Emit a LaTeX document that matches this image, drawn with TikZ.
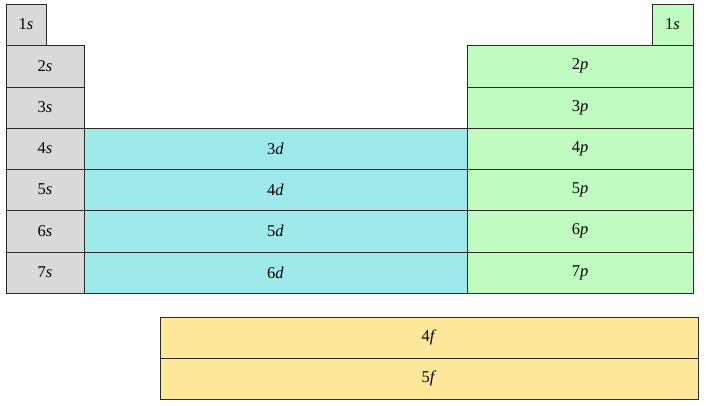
\documentclass[tikz,border=0pt]{standalone}
\usepackage{fontspec}
\setmainfont{Liberation Serif}
\definecolor{sgray}{HTML}{D9D9D9}
\definecolor{dcyan}{HTML}{9EEAEA}
\definecolor{pgreen}{HTML}{C0FCC0}
\definecolor{fyellow}{HTML}{FFE899}
\definecolor{edge}{HTML}{2A2A2A}
\tikzset{
  cell/.style={draw=edge, line width=1pt},
  celltext/.style={inner sep=0pt, font=\fontsize{16.5}{19}\selectfont},
}
\newcommand{\cellbox}[7]{% name, x1, y1, x2, y2, fill, label
  \path[cell, fill=#6] (#2,#3) rectangle (#4,#5);
  \node[celltext] (#1) at ({(#2+#4)/2},{(#3+#5)/2}) {#7};
}
\begin{document}
\begin{tikzpicture}[x=1pt,y=-1pt]
\useasboundingbox (0,0) rectangle (706,405);
% s block
\cellbox{s1}{6}{4}{46}{45}{sgray}{1\textit{s}}
\cellbox{s2}{6}{45}{84}{87}{sgray}{2\textit{s}}
\cellbox{s3}{6}{87}{84}{128}{sgray}{3\textit{s}}
\cellbox{s4}{6}{128}{84}{169}{sgray}{4\textit{s}}
\cellbox{s5}{6}{169}{84}{210}{sgray}{5\textit{s}}
\cellbox{s6}{6}{210}{84}{252}{sgray}{6\textit{s}}
\cellbox{s7}{6}{252}{84}{293}{sgray}{7\textit{s}}
% d block
\cellbox{d3}{84}{128}{467}{169}{dcyan}{3\textit{d}}
\cellbox{d4}{84}{169}{467}{210}{dcyan}{4\textit{d}}
\cellbox{d5}{84}{210}{467}{252}{dcyan}{5\textit{d}}
\cellbox{d6}{84}{252}{467}{293}{dcyan}{6\textit{d}}
% p block
\cellbox{he}{652}{4}{693}{45}{pgreen}{1\textit{s}}
\cellbox{p2}{467}{45}{693}{87}{pgreen}{2\textit{p}}
\cellbox{p3}{467}{87}{693}{128}{pgreen}{3\textit{p}}
\cellbox{p4}{467}{128}{693}{169}{pgreen}{4\textit{p}}
\cellbox{p5}{467}{169}{693}{210}{pgreen}{5\textit{p}}
\cellbox{p6}{467}{210}{693}{252}{pgreen}{6\textit{p}}
\cellbox{p7}{467}{252}{693}{293}{pgreen}{7\textit{p}}
% f block
\cellbox{f4}{160}{317}{698}{358}{fyellow}{4\textit{f}}
\cellbox{f5}{160}{358}{698}{399}{fyellow}{5\textit{f}}
\end{tikzpicture}
\end{document}
